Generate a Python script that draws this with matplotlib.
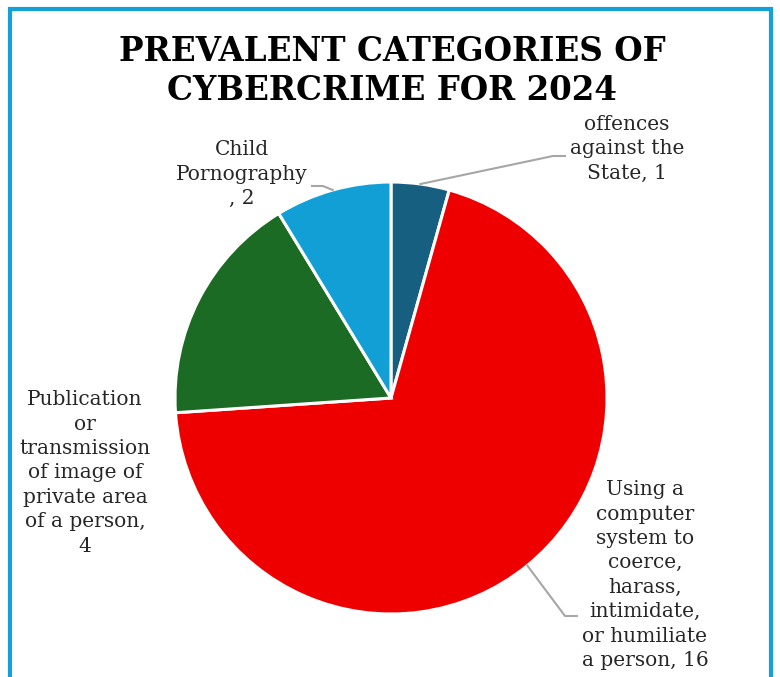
import numpy as np
import matplotlib.pyplot as plt
from matplotlib.patches import Rectangle

# crime categories and number of cases
categories = ["offences\nagainst the\nState", 
              "Using a\ncomputer\nsystem to\ncoerce,\nharass,\nintimidate,\nor humiliate\na person",
              "Publication\nor\ntransmission\nof image of\nprivate area\nof a person,\n",
              "Child\nPornography\n"]
cases = [1, 16, 4, 2]
colors = ["#175F80", "#EE0000", "#1C6B24", "#129FD6"]

W, H = 780, 677
fig = plt.figure(figsize=(W / 100, H / 100), dpi=100)
ax = fig.add_axes([0, 0, 1, 1])

center = (391, H - 398)
radius = 216
wedges, _ = ax.pie(cases, colors=colors, startangle=90, counterclock=False,
                   center=center, radius=radius, frame=True,
                   wedgeprops=dict(edgecolor="white", linewidth=2.2))
ax.set_xlim(0, W)
ax.set_ylim(0, H)
ax.set_aspect("equal")
ax.axis("off")

serif = "DejaVu Serif"
ax.text(392, H - 71, "PREVALENT CATEGORIES OF\nCYBERCRIME FOR 2024", ha="center", va="center",
        fontsize=23.5, fontweight="bold", family=serif, linespacing=1.22)

# label text, label anchor and leader line bends (pixels from the top left)
labels = [f"{categories[0]}, {cases[0]}", f"{categories[1]}, {cases[1]}",
          f"{categories[2]}{cases[2]}", f"{categories[3]}, {cases[3]}"]
label_xy = [(627, 149), (645, 575), (85, 473), (242, 174)]
leader_knee = [(553, 156), (565, 616), None, (323, 186)]
leader_end = [(565, 156), (577, 616), None, (312, 186)]

fracs = np.cumsum([0] + cases) / sum(cases)
for i, lab in enumerate(labels):
    ax.text(label_xy[i][0], H - label_xy[i][1], lab, ha="center", va="center",
            fontsize=14.5, family=serif, color="#262626", linespacing=1.36)
    if leader_knee[i] is None:
        continue
    # leader starts on the rim at the middle of the slice
    ang = np.deg2rad(90 - 180 * (fracs[i] + fracs[i + 1]))
    px = center[0] + radius * np.cos(ang)
    py = center[1] + radius * np.sin(ang)
    ax.plot([px, leader_knee[i][0], leader_end[i][0]],
            [py, H - leader_knee[i][1], H - leader_end[i][1]], color="#A6A6A6", lw=1.5)

# chart border, open at the bottom edge
fig.patches.append(Rectangle((10, -20), 761, H - 9 + 20, transform=None,
                             fill=False, edgecolor="#14A0D8", linewidth=3))

fig.savefig("out.png", dpi=100)
